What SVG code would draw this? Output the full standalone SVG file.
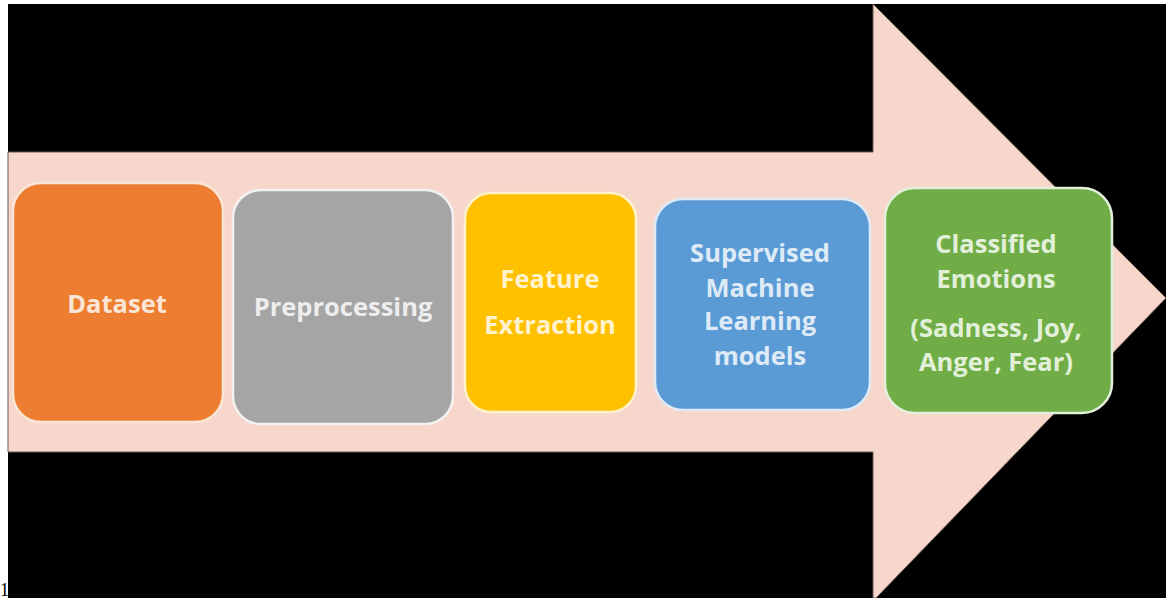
<svg xmlns="http://www.w3.org/2000/svg" width="1166" height="598" viewBox="0 0 1166 598">
<style>
.box{stroke-width:2.5}
.lbl{font-family:"Open Sans","Liberation Sans",sans-serif;font-weight:700;font-size:25.5px;text-anchor:middle}
</style>
<rect x="0" y="0" width="1166" height="598" fill="#ffffff"/>
<rect x="8" y="4" width="1158" height="594" fill="#000000"/>
<g id="connectors">
<path id="arrow" d="M8 152 L873 152 L873 4 L1166 298 L876 598 L873 598 L873 452 L8 452 Z" fill="#F7D7CB" stroke="#6b5a55" stroke-width="1"/>
</g>
<g id="n1">
<rect class="box" x="13" y="183" width="210" height="239" rx="28" fill="#ED7D31" stroke="#FBE5D6"/>
<text class="lbl" x="117" y="313" fill="#FBE5D6">Dataset</text>
</g>
<g id="n2">
<rect class="box" x="233" y="190" width="220" height="234" rx="28" fill="#A5A5A5" stroke="#F2F2F2"/>
<text class="lbl" x="343" y="316" fill="#EDEDED">Preprocessing</text>
</g>
<g id="n3">
<rect class="box" x="465" y="193" width="171" height="219" rx="26" fill="#FFC000" stroke="#FFF2CC"/>
<text class="lbl" x="550" y="288" fill="#FFF2CC">Feature</text>
<text class="lbl" x="550" y="334" fill="#FFF2CC">Extraction</text>
</g>
<g id="n4">
<rect class="box" x="655" y="199" width="215" height="211" rx="28" fill="#5B9BD5" stroke="#DEEBF7"/>
<text class="lbl" x="760" y="262" fill="#DEEBF7">Supervised</text>
<text class="lbl" x="760" y="297" fill="#DEEBF7">Machine</text>
<text class="lbl" x="760" y="330" fill="#DEEBF7">Learning</text>
<text class="lbl" x="760" y="365" fill="#DEEBF7">models</text>
</g>
<g id="n5">
<rect class="box" x="885" y="188" width="227" height="225" rx="30" fill="#70AD47" stroke="#E2F0D9"/>
<text class="lbl" x="996" y="253" fill="#E2F0D9">Classified</text>
<text class="lbl" x="996" y="288" fill="#E2F0D9">Emotions</text>
<text class="lbl" x="996" y="337" fill="#E2F0D9">(Sadness, Joy,</text>
<text class="lbl" x="996" y="371" fill="#E2F0D9">Anger, Fear)</text>
</g>
<text x="0" y="596" font-family="Liberation Serif,serif" font-size="18" fill="#000000">1</text>
</svg>
